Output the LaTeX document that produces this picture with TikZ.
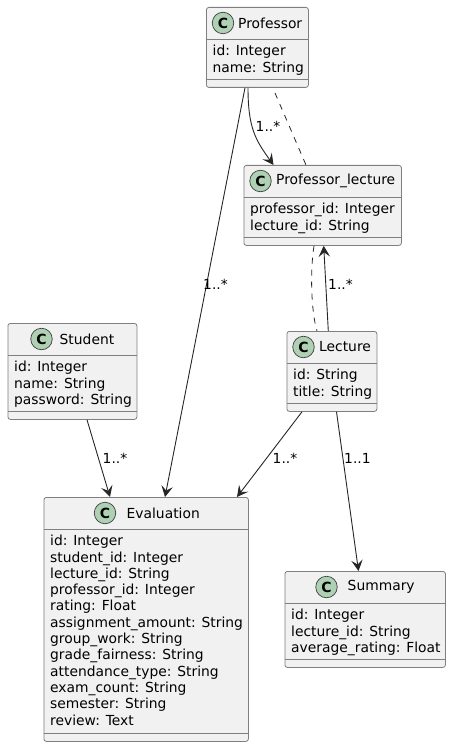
\documentclass[tikz,border=0pt]{standalone}
\usepackage{fontspec}
\setmainfont{DejaVu Sans}
\usetikzlibrary{calc,arrows.meta}
\definecolor{boxfill}{HTML}{F1F1F1}
\definecolor{boxline}{HTML}{7F7F7F}
\definecolor{spotfill}{HTML}{ADD1B2}
\tikzset{
  classbox/.style={draw=boxline,fill=boxfill,rounded corners=2.5pt,line width=0.8pt,anchor=north west,inner sep=0pt},
  spot/.style={circle,draw=black!75,fill=spotfill,line width=0.7pt,minimum size=21.5pt,inner sep=0pt,font=\fontsize{14}{14}\selectfont\bfseries},
  title/.style={font=\fontsize{13.85}{16}\selectfont,anchor=west,inner sep=0pt},
  attrs/.style={font=\fontsize{13.85}{16.3}\selectfont,anchor=north west,inner sep=0pt,align=left},
  card/.style={font=\fontsize{13.85}{16}\selectfont,inner sep=0pt,anchor=west},
  assoc/.style={-{Stealth[length=11pt,width=11.5pt,inset=4.5pt]},black!85,line width=0.9pt},
  linkdash/.style={black!85,line width=0.8pt,dash pattern=on 6pt off 6pt}
}
% name, x, y, width, height, spot x, title x, title, attributes
\newcommand{\classnode}[9]{%
  \node[classbox,minimum width=#4pt,minimum height=#5pt] (#1) at (#2,#3) {};
  \draw[boxline,line width=0.7pt] ($(#1.north west)+(0,32)$) -- ($(#1.north east)+(0,32)$);
  \draw[boxline,line width=0.7pt] ($(#1.south west)+(0,-8)$) -- ($(#1.south east)+(0,-8)$);
  \node[spot] (#1spot) at ($(#1.north west)+(#6,16)$) {C};
  \node[title] (#1title) at ($(#1.north west)+(#7,16)$) {#8};
  \node[attrs] (#1attrs) at ($(#1.north west)+(6.5,38)$) {#9};
}
\begin{document}
\begin{tikzpicture}[x=1pt,y=-1pt]
  \useasboundingbox (0,0) rectangle (451,746);
  \classnode{professor}{206}{7}{102}{80}{17}{32}{Professor}{id: Integer\\name: String}
  \classnode{proflecture}{243.5}{165}{157.5}{80}{17}{32.5}{Professor\_lecture}{professor\_id: Integer\\lecture\_id: String}
  \classnode{student}{7.5}{323}{129}{96}{34}{52}{Student}{id: Integer\\name: String\\password: String}
  \classnode{lecture}{286.5}{331}{90}{80}{17}{32.5}{Lecture}{id: String\\title: String}
  \classnode{evaluation}{43.5}{497}{204.5}{244}{61.5}{83}{Evaluation}{id: Integer\\student\_id: Integer\\lecture\_id: String\\professor\_id: Integer\\rating: Float\\assignment\_amount: String\\group\_work: String\\grade\_fairness: String\\attendance\_type: String\\exam\_count: String\\semester: String\\review: Text}
  \classnode{summary}{284.5}{571}{160.5}{96}{42}{63}{Summary}{id: Integer\\lecture\_id: String\\average\_rating: Float}

  \coordinate (dashstart) at (275,93);
  \draw[assoc] ($(professor.south west)+(42,0)$) .. controls +(0,40) and +(-18,-25) .. ($(proflecture.north west)+(30,0)$);
  \node[card] (cardone) at (255.5,126) {1..*};
  \draw[linkdash] (dashstart) -- ($(proflecture.north west)+(62.5,0)$);
  \draw[assoc] ($(professor.south west)+(39,0)$) -- ($(evaluation.north west)+(121.5,0)$);
  \node[card] (cardtwo) at (203,284) {1..*};
  \draw[assoc] ($(lecture.north west)+(41.8,0)$) -- ($(proflecture.south west)+(80.2,0)$);
  \node[card] (cardthree) at (328,284) {1..*};
  \draw[linkdash] ($(proflecture.south west)+(70.5,0)$) .. controls +(-4,25) and +(-6,-20) .. ($(lecture.north west)+(30.5,0)$);
  \draw[assoc] ($(student.south west)+(79.5,0)$) -- ($(evaluation.north west)+(66.5,0)$);
  \node[card] (cardfour) at (102.5,458) {1..*};
  \draw[assoc] ($(lecture.south west)+(15.5,0)$) -- ($(evaluation.north west)+(193.5,0)$);
  \node[card] (cardfive) at (272.5,458) {1..*};
  \draw[assoc] ($(lecture.south west)+(50,0)$) -- ($(summary.north west)+(74,0)$);
  \node[card] (cardsix) at (344,458) {1..1};
\end{tikzpicture}
\end{document}
